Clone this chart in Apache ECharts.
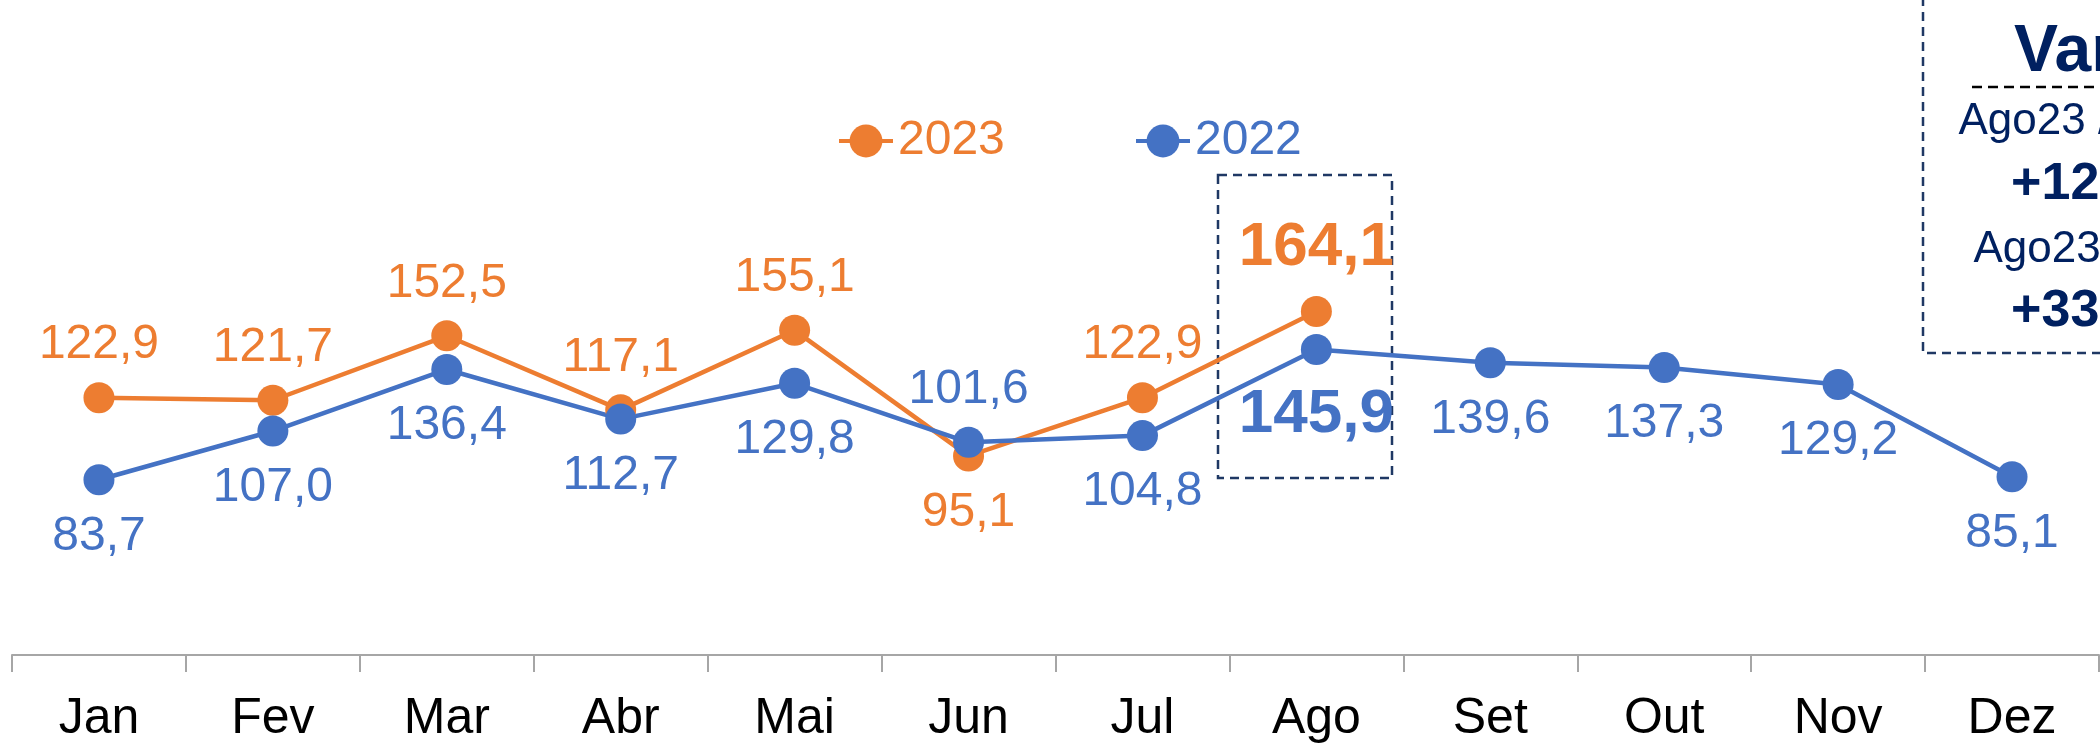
<!DOCTYPE html>
<html>
<head>
<meta charset="utf-8">
<script src="https://cdn.jsdelivr.net/npm/echarts@6/dist/echarts.min.js"></script>
<style>
  html, body { margin: 0; padding: 0; background: #fff; }
  #chart { width: 2100px; height: 749px; }
</style>
</head>
<body>
<div id="chart"></div>
<script>
// data
const months = ['Jan', 'Fev', 'Mar', 'Abr', 'Mai', 'Jun', 'Jul', 'Ago', 'Set', 'Out', 'Nov', 'Dez'];
const values2023 = [122.9, 121.7, 152.5, 117.1, 155.1, 95.1, 122.9, 164.1];
const values2022 = [83.7, 107.0, 136.4, 112.7, 129.8, 101.6, 104.8, 145.9, 139.6, 137.3, 129.2, 85.1];
const highlightMonth = 'Ago';
const swapLabelMonths = ['Jun']; // there 2023 sits under its point, 2022 over it

const ORANGE = '#ED7D31';
const BLUE = '#4472C4';
const NAVY = '#002060';
const FONT = '"Liberation Sans Narrow", "Arial Narrow", "Liberation Sans", Arial, sans-serif';

const fmt = (v) => v.toFixed(1).replace('.', ',');
const pct = (a, b) => (a / b - 1) * 100;

const iHi = months.indexOf(highlightMonth);
const iPrev = iHi - 1;
const varRows = [
  [months[iHi] + '23 / ' + months[iHi] + '22', '+' + fmt(pct(values2023[iHi], values2022[iHi])) + '%'],
  [months[iHi] + '23 / ' + months[iPrev] + '23', '+' + fmt(pct(values2023[iHi], values2023[iPrev])) + '%']
];

function buildData(values, above) {
  return values.map((v, i) => {
    let up = above;
    if (swapLabelMonths.indexOf(months[i]) >= 0) up = !up;
    let hi = months[i] === highlightMonth;
    return {
      value: v,
      label: {
        position: up ? 'top' : 'bottom',
        distance: hi ? (up ? 17 : 19) : (up ? 13 : 17),
        fontSize: hi ? 62 : 48,
        fontWeight: hi ? 'bold' : 'normal'
      }
    };
  });
}

function lineSeries(name, color, values, above) {
  return {
    name: name,
    type: 'line',
    data: buildData(values, above),
    symbol: 'circle',
    symbolSize: 31,
    itemStyle: {color: color},
    lineStyle: {color: color, width: 4.5},
    label: {
      show: true,
      color: color,
      fontFamily: FONT,
      formatter: (p) => fmt(p.value)
    },
    animation: false
  };
}

const chart = echarts.init(document.getElementById('chart'));

let legendCommon = {
  orient: 'horizontal',
  itemWidth: 54,
  itemHeight: 41,
  itemGap: 0,
  top: 112,
  lineStyle: {width: 4},
  textStyle: {fontFamily: FONT, fontSize: 48, padding: [0, 0, 0, 0]}
};

let option = {
  backgroundColor: '#fff',
  grid: {left: 12, right: 1, top: 27, bottom: 94},
  legend: [
    Object.assign({}, legendCommon, {left: 832, data: ['2023'], textStyle: Object.assign({}, legendCommon.textStyle, {color: ORANGE})}),
    Object.assign({}, legendCommon, {left: 1129, data: ['2022'], textStyle: Object.assign({}, legendCommon.textStyle, {color: BLUE})})
  ],
  xAxis: {
    type: 'category',
    data: months,
    boundaryGap: true,
    axisLine: {lineStyle: {color: '#A6A6A6', width: 2}},
    axisTick: {show: true, length: 17, lineStyle: {color: '#A6A6A6', width: 2}},
    axisLabel: {color: '#000', fontFamily: FONT, fontSize: 50, margin: 39},
    splitLine: {show: false}
  },
  yAxis: {
    type: 'value',
    min: 0,
    max: 300,
    show: false
  },
  series: [
    lineSeries('2023', ORANGE, values2023, true),
    lineSeries('2022', BLUE, values2022, false)
  ],
  graphic: [
    // dashed frame round the highlighted month
    {
      type: 'rect',
      shape: {x: 1218, y: 175, width: 174, height: 303},
      style: {fill: null, stroke: '#1F3864', lineWidth: 2.5, lineDash: [9, 6]},
      z: 1
    },
    // variation box, runs off the right edge
    {
      type: 'rect',
      shape: {x: 1923, y: -20, width: 360, height: 373},
      style: {fill: null, stroke: '#1F3864', lineWidth: 2.5, lineDash: [9, 6]}
    },
    {
      type: 'line',
      shape: {x1: 1972, y1: 87, x2: 2240, y2: 87},
      style: {stroke: '#000', lineWidth: 2.5, lineDash: [10, 6]}
    },
    {
      type: 'text', x: 2104, y: 53,
      style: {text: 'Var %', fill: NAVY, font: 'bold 66px ' + FONT, textAlign: 'center', textVerticalAlign: 'middle'}
    },
    {
      type: 'text', x: 2104, y: 122,
      style: {text: varRows[0][0], fill: NAVY, font: '44px ' + FONT, textAlign: 'center', textVerticalAlign: 'middle'}
    },
    {
      type: 'text', x: 2100, y: 185,
      style: {text: varRows[0][1], fill: NAVY, font: 'bold 52px ' + FONT, textAlign: 'center', textVerticalAlign: 'middle'}
    },
    {
      type: 'text', x: 2108, y: 250,
      style: {text: varRows[1][0], fill: NAVY, font: '44px ' + FONT, textAlign: 'center', textVerticalAlign: 'middle'}
    },
    {
      type: 'text', x: 2100, y: 312,
      style: {text: varRows[1][1], fill: NAVY, font: 'bold 52px ' + FONT, textAlign: 'center', textVerticalAlign: 'middle'}
    }
  ]
};

chart.setOption(option);
</script>
</body>
</html>
